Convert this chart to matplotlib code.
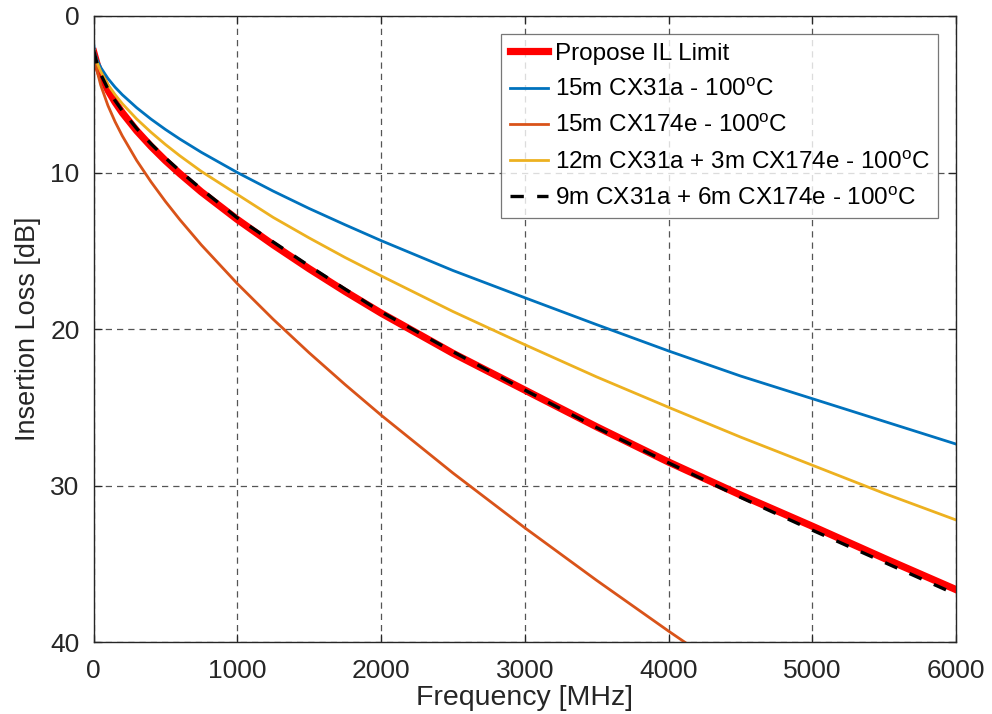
import matplotlib
matplotlib.use('Agg')
import matplotlib.pyplot as plt

plt.rcParams['font.family'] = ['Liberation Sans', 'DejaVu Sans']
plt.rcParams['mathtext.fontset'] = 'custom'
plt.rcParams['mathtext.rm'] = 'Liberation Sans'

# frequency points [MHz] and insertion loss [dB]
freq = [1, 10, 25, 50, 100, 150, 200, 300, 400, 500, 600, 750, 1000,
        1250, 1500, 1750, 2000, 2500, 3000, 3500, 4000, 4500, 5000, 5500, 6000]

il_limit = [2.3, 2.6, 3.1, 3.76, 4.74, 5.51, 6.18, 7.33, 8.33, 9.24, 10.07, 11.24, 13.0,
            14.62, 16.15, 17.6, 18.98, 21.55, 23.9, 26.25, 28.5, 30.6, 32.6, 34.65, 36.65]
cx31a_15m = [1.8, 2.39, 2.81, 3.29, 3.99, 4.55, 5.03, 5.86, 6.59, 7.25, 7.86, 8.71, 10.0,
             11.19, 12.3, 13.34, 14.35, 16.26, 18.0, 19.72, 21.4, 23.0, 24.45, 25.9, 27.35]
cx174e_15m = [2.2, 2.76, 3.53, 4.42, 5.72, 6.76, 7.66, 9.23, 10.6, 11.85, 13.01, 14.63, 17.1,
              19.38, 21.52, 23.55, 25.5, 29.2, 32.7, 36.06, 39.3, 42.44]
mix_12_3 = [2.1, 2.5, 2.99, 3.55, 4.38, 5.03, 5.6, 6.58, 7.43, 8.21, 8.93, 9.93, 11.4,
            12.87, 14.18, 15.43, 16.6, 18.88, 21.0, 23.06, 25.0, 26.9, 28.7, 30.5, 32.2]
mix_9_6 = [2.2, 2.52, 3.08, 3.72, 4.66, 5.41, 6.06, 7.19, 8.17, 9.07, 9.9, 11.06, 12.9,
           14.44, 15.97, 17.45, 18.9, 21.45, 23.9, 26.3, 28.55, 30.75, 32.85, 34.9, 36.95]

labels = ['Propose IL Limit',
          '15m CX31a - 100$^{\\mathrm{o}}$C',
          '15m CX174e - 100$^{\\mathrm{o}}$C',
          '12m CX31a + 3m CX174e - 100$^{\\mathrm{o}}$C',
          '9m CX31a + 6m CX174e - 100$^{\\mathrm{o}}$C']

fig = plt.figure(figsize=(9.92, 7.14), dpi=100)
ax = fig.add_axes([0.0943, 0.1008, 0.8694, 0.8768])

ax.plot(freq, il_limit, color='#FF0000', lw=5.2, label=labels[0])
ax.plot(freq, cx31a_15m, color='#0072BD', lw=2.0, label=labels[1])
ax.plot(freq[:len(cx174e_15m)], cx174e_15m, color='#D95319', lw=2.0, label=labels[2])
ax.plot(freq, mix_12_3, color='#EDB120', lw=2.0, label=labels[3])
ax.plot(freq, mix_9_6, color='black', lw=2.4, ls=(0, (4, 4)), label=labels[4])

ax.set_xlim(0, 6000)
ax.set_ylim(40, 0)
ax.set_xticks([0, 1000, 2000, 3000, 4000, 5000, 6000])
ax.set_yticks([0, 10, 20, 30, 40])

ax.grid(True, ls=(0, (5, 4)), color='#555555', lw=0.9)
ax.tick_params(direction='in', top=True, right=True, labelsize=19,
               length=6, width=0.9, colors='#262626')
ax.tick_params(axis='x', pad=12)
ax.tick_params(axis='y', pad=10)
for s in ax.spines.values():
    s.set_color('#262626')
    s.set_linewidth(1.0)

ax.set_xlabel('Frequency [MHz]', fontsize=20.5, labelpad=2, color='#262626')
ax.set_ylabel('Insertion Loss [dB]', fontsize=19.5, labelpad=7, color='#262626')

leg = ax.legend(loc='upper right', fontsize=17.5, frameon=True, fancybox=False,
                handlelength=1.6, handletextpad=0.25, labelspacing=0.55,
                borderaxespad=0.75, borderpad=0.35)
leg.get_frame().set_edgecolor('#555555')
leg.get_frame().set_linewidth(0.9)

fig.savefig('out.png', dpi=100)
